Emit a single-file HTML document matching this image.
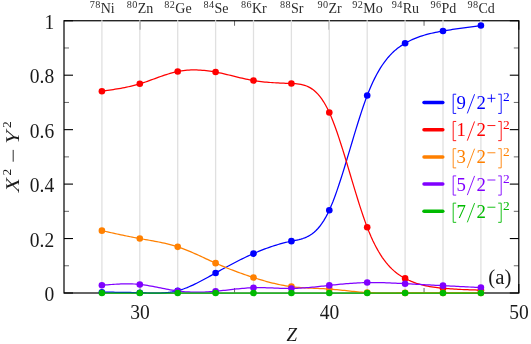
<!DOCTYPE html>
<html><head><meta charset="utf-8"><title>chart</title>
<style>html,body{margin:0;padding:0;background:#fff;}svg{display:block;will-change:transform;}text{font-family:"Liberation Serif",serif;}</style>
</head><body>
<svg width="531" height="344" viewBox="0 0 531 344">
<rect width="531" height="344" fill="#ffffff"/>
<g stroke="#000000" stroke-width="1.2" fill="none">
<rect x="64.0" y="20.75" width="454.80" height="272.25"/>
</g>
<g stroke="#000000" stroke-width="1.1" fill="none"><line x1="64.0" y1="293.00" x2="73.0" y2="293.00"/><line x1="518.8" y1="293.00" x2="509.79999999999995" y2="293.00"/><line x1="64.0" y1="238.55" x2="73.0" y2="238.55"/><line x1="518.8" y1="238.55" x2="509.79999999999995" y2="238.55"/><line x1="64.0" y1="184.10" x2="73.0" y2="184.10"/><line x1="518.8" y1="184.10" x2="509.79999999999995" y2="184.10"/><line x1="64.0" y1="129.65" x2="73.0" y2="129.65"/><line x1="518.8" y1="129.65" x2="509.79999999999995" y2="129.65"/><line x1="64.0" y1="75.20" x2="73.0" y2="75.20"/><line x1="518.8" y1="75.20" x2="509.79999999999995" y2="75.20"/><line x1="64.0" y1="20.75" x2="73.0" y2="20.75"/><line x1="518.8" y1="20.75" x2="509.79999999999995" y2="20.75"/><line x1="139.80" y1="293.0" x2="139.80" y2="284.0"/><line x1="139.80" y1="20.75" x2="139.80" y2="29.75"/><line x1="329.30" y1="293.0" x2="329.30" y2="284.0"/><line x1="329.30" y1="20.75" x2="329.30" y2="29.75"/><line x1="518.80" y1="293.0" x2="518.80" y2="284.0"/><line x1="518.80" y1="20.75" x2="518.80" y2="29.75"/></g>
<g stroke="#000000" stroke-width="0.6" fill="none"><line x1="64.0" y1="265.77" x2="69.0" y2="265.77"/><line x1="518.8" y1="265.77" x2="513.8" y2="265.77"/><line x1="64.0" y1="211.32" x2="69.0" y2="211.32"/><line x1="518.8" y1="211.32" x2="513.8" y2="211.32"/><line x1="64.0" y1="156.88" x2="69.0" y2="156.88"/><line x1="518.8" y1="156.88" x2="513.8" y2="156.88"/><line x1="64.0" y1="102.43" x2="69.0" y2="102.43"/><line x1="518.8" y1="102.43" x2="513.8" y2="102.43"/><line x1="64.0" y1="47.97" x2="69.0" y2="47.97"/><line x1="518.8" y1="47.97" x2="513.8" y2="47.97"/><line x1="234.55" y1="293.0" x2="234.55" y2="288.0"/><line x1="234.55" y1="20.75" x2="234.55" y2="25.75"/><line x1="424.05" y1="293.0" x2="424.05" y2="288.0"/><line x1="424.05" y1="20.75" x2="424.05" y2="25.75"/></g>
<g stroke="#e0e0e0" stroke-width="1.3">
<line x1="101.90" y1="20.15" x2="101.90" y2="293.6"/>
<line x1="139.80" y1="20.15" x2="139.80" y2="293.6"/>
<line x1="177.70" y1="20.15" x2="177.70" y2="293.6"/>
<line x1="215.60" y1="20.15" x2="215.60" y2="293.6"/>
<line x1="253.50" y1="20.15" x2="253.50" y2="293.6"/>
<line x1="291.40" y1="20.15" x2="291.40" y2="293.6"/>
<line x1="329.30" y1="20.15" x2="329.30" y2="293.6"/>
<line x1="367.20" y1="20.15" x2="367.20" y2="293.6"/>
<line x1="405.10" y1="20.15" x2="405.10" y2="293.6"/>
<line x1="443.00" y1="20.15" x2="443.00" y2="293.6"/>
<line x1="480.90" y1="20.15" x2="480.90" y2="293.6"/>
</g>
<line x1="101.90" y1="293.0" x2="480.90" y2="293.0" stroke="#ffffff" stroke-opacity="0.4" stroke-width="2"/>
<polyline points="101.90,292.18 103.80,292.19 105.69,292.20 107.59,292.21 109.48,292.22 111.38,292.23 113.27,292.24 115.16,292.26 117.06,292.27 118.95,292.29 120.85,292.31 122.75,292.34 124.64,292.36 126.53,292.39 128.43,292.43 130.32,292.47 132.22,292.51 134.11,292.56 136.01,292.61 137.90,292.66 139.80,292.73 141.70,292.80 143.59,292.87 145.49,292.94 147.38,293.00 149.27,293.06 151.17,293.10 153.06,293.14 154.96,293.15 156.85,293.14 158.75,293.11 160.65,293.05 162.54,292.96 164.44,292.84 166.33,292.67 168.22,292.47 170.12,292.22 172.01,291.92 173.91,291.57 175.80,291.17 177.70,290.71 179.60,290.18 181.49,289.60 183.38,288.97 185.28,288.28 187.18,287.55 189.07,286.77 190.97,285.94 192.86,285.08 194.75,284.19 196.65,283.26 198.55,282.30 200.44,281.32 202.33,280.32 204.23,279.30 206.12,278.26 208.02,277.21 209.92,276.16 211.81,275.09 213.70,274.03 215.60,272.97 217.50,271.91 219.39,270.85 221.28,269.80 223.18,268.76 225.07,267.73 226.97,266.70 228.87,265.69 230.76,264.68 232.65,263.68 234.55,262.70 236.45,261.72 238.34,260.76 240.23,259.81 242.13,258.87 244.02,257.95 245.92,257.05 247.82,256.16 249.71,255.28 251.60,254.42 253.50,253.59 255.40,252.77 257.29,251.96 259.18,251.18 261.08,250.42 262.98,249.68 264.87,248.95 266.76,248.25 268.66,247.57 270.55,246.91 272.45,246.27 274.35,245.66 276.24,245.06 278.13,244.49 280.03,243.95 281.92,243.42 283.82,242.92 285.72,242.45 287.61,241.99 289.50,241.57 291.40,241.17 293.29,240.79 295.19,240.41 297.08,240.02 298.98,239.59 300.88,239.10 302.77,238.53 304.67,237.86 306.56,237.06 308.45,236.12 310.35,235.02 312.25,233.73 314.14,232.23 316.03,230.50 317.93,228.52 319.82,226.27 321.72,223.72 323.62,220.86 325.51,217.67 327.40,214.12 329.30,210.19 331.19,205.87 333.09,201.19 334.98,196.18 336.88,190.87 338.77,185.32 340.67,179.54 342.56,173.57 344.46,167.46 346.35,161.24 348.25,154.94 350.14,148.59 352.04,142.24 353.93,135.93 355.83,129.67 357.72,123.52 359.62,117.51 361.52,111.67 363.41,106.04 365.30,100.65 367.20,95.55 369.09,90.75 370.99,86.26 372.88,82.06 374.78,78.14 376.67,74.48 378.57,71.08 380.47,67.92 382.36,64.99 384.25,62.28 386.15,59.78 388.05,57.47 389.94,55.33 391.83,53.37 393.73,51.56 395.62,49.89 397.52,48.36 399.42,46.94 401.31,45.63 403.20,44.41 405.10,43.28 406.99,42.21 408.89,41.21 410.78,40.28 412.68,39.40 414.57,38.58 416.47,37.81 418.37,37.10 420.26,36.43 422.16,35.81 424.05,35.23 425.94,34.68 427.84,34.17 429.73,33.70 431.63,33.25 433.52,32.83 435.42,32.44 437.31,32.06 439.21,31.70 441.11,31.36 443.00,31.02 444.89,30.70 446.79,30.38 448.68,30.07 450.58,29.77 452.47,29.47 454.37,29.18 456.27,28.89 458.16,28.61 460.06,28.34 461.95,28.06 463.84,27.80 465.74,27.53 467.63,27.27 469.53,27.02 471.42,26.76 473.32,26.51 475.21,26.26 477.11,26.01 479.01,25.76 480.90,25.51" fill="none" stroke="#0000ff" stroke-width="1.25" stroke-linejoin="round" stroke-linecap="round"/>
<g fill="#0000ff">
<circle cx="101.90" cy="292.18" r="3.3"/>
<circle cx="139.80" cy="292.73" r="3.3"/>
<circle cx="177.70" cy="290.71" r="3.3"/>
<circle cx="215.60" cy="272.97" r="3.3"/>
<circle cx="253.50" cy="253.59" r="3.3"/>
<circle cx="291.40" cy="241.17" r="3.3"/>
<circle cx="329.30" cy="210.19" r="3.3"/>
<circle cx="367.20" cy="95.55" r="3.3"/>
<circle cx="405.10" cy="43.28" r="3.3"/>
<circle cx="443.00" cy="31.02" r="3.3"/>
<circle cx="480.90" cy="25.51" r="3.3"/>
</g>
<polyline points="101.90,91.18 103.80,90.91 105.69,90.65 107.59,90.38 109.48,90.10 111.38,89.82 113.27,89.53 115.16,89.23 117.06,88.92 118.95,88.60 120.85,88.27 122.75,87.92 124.64,87.55 126.53,87.16 128.43,86.76 130.32,86.33 132.22,85.88 134.11,85.40 136.01,84.90 137.90,84.37 139.80,83.81 141.70,83.22 143.59,82.61 145.49,81.97 147.38,81.31 149.27,80.64 151.17,79.95 153.06,79.26 154.96,78.57 156.85,77.88 158.75,77.20 160.65,76.52 162.54,75.86 164.44,75.21 166.33,74.59 168.22,73.99 170.12,73.42 172.01,72.89 173.91,72.39 175.80,71.94 177.70,71.53 179.60,71.17 181.49,70.86 183.38,70.59 185.28,70.37 187.18,70.20 189.07,70.07 190.97,69.98 192.86,69.93 194.75,69.92 196.65,69.95 198.55,70.02 200.44,70.12 202.33,70.26 204.23,70.43 206.12,70.63 208.02,70.86 209.92,71.13 211.81,71.42 213.70,71.73 215.60,72.07 217.50,72.44 219.39,72.83 221.28,73.23 223.18,73.66 225.07,74.09 226.97,74.54 228.87,74.99 230.76,75.46 232.65,75.92 234.55,76.39 236.45,76.85 238.34,77.31 240.23,77.77 242.13,78.21 244.02,78.64 245.92,79.06 247.82,79.46 249.71,79.84 251.60,80.20 253.50,80.54 255.40,80.84 257.29,81.12 259.18,81.38 261.08,81.61 262.98,81.83 264.87,82.02 266.76,82.20 268.66,82.35 270.55,82.50 272.45,82.63 274.35,82.75 276.24,82.85 278.13,82.95 280.03,83.05 281.92,83.13 283.82,83.22 285.72,83.30 287.61,83.38 289.50,83.46 291.40,83.54 293.29,83.63 295.19,83.74 297.08,83.90 298.98,84.12 300.88,84.42 302.77,84.83 304.67,85.36 306.56,86.03 308.45,86.86 310.35,87.88 312.25,89.10 314.14,90.54 316.03,92.23 317.93,94.17 319.82,96.40 321.72,98.93 323.62,101.79 325.51,104.98 327.40,108.53 329.30,112.47 331.19,116.80 333.09,121.49 334.98,126.51 336.88,131.83 338.77,137.40 340.67,143.19 342.56,149.17 344.46,155.30 346.35,161.53 348.25,167.85 350.14,174.20 352.04,180.56 353.93,186.89 355.83,193.15 357.72,199.30 359.62,205.32 361.52,211.15 363.41,216.78 365.30,222.15 367.20,227.25 369.09,232.03 370.99,236.50 372.88,240.67 374.78,244.56 376.67,248.18 378.57,251.54 380.47,254.66 382.36,257.54 384.25,260.20 386.15,262.65 388.05,264.91 389.94,266.98 391.83,268.88 393.73,270.62 395.62,272.22 397.52,273.68 399.42,275.01 401.31,276.24 403.20,277.38 405.10,278.42 406.99,279.40 408.89,280.30 410.78,281.14 412.68,281.92 414.57,282.64 416.47,283.30 418.37,283.90 420.26,284.46 422.16,284.97 424.05,285.43 425.94,285.85 427.84,286.23 429.73,286.58 431.63,286.89 433.52,287.17 435.42,287.43 437.31,287.66 439.21,287.88 441.11,288.07 443.00,288.25 444.89,288.42 446.79,288.57 448.68,288.72 450.58,288.86 452.47,288.98 454.37,289.10 456.27,289.21 458.16,289.31 460.06,289.41 461.95,289.50 463.84,289.58 465.74,289.66 467.63,289.73 469.53,289.80 471.42,289.87 473.32,289.93 475.21,289.99 477.11,290.05 479.01,290.10 480.90,290.16" fill="none" stroke="#ff0000" stroke-width="1.25" stroke-linejoin="round" stroke-linecap="round"/>
<g fill="#ff0000">
<circle cx="101.90" cy="91.18" r="3.3"/>
<circle cx="139.80" cy="83.81" r="3.3"/>
<circle cx="177.70" cy="71.53" r="3.3"/>
<circle cx="215.60" cy="72.07" r="3.3"/>
<circle cx="253.50" cy="80.54" r="3.3"/>
<circle cx="291.40" cy="83.54" r="3.3"/>
<circle cx="329.30" cy="112.47" r="3.3"/>
<circle cx="367.20" cy="227.25" r="3.3"/>
<circle cx="405.10" cy="278.42" r="3.3"/>
<circle cx="443.00" cy="288.25" r="3.3"/>
<circle cx="480.90" cy="290.16" r="3.3"/>
</g>
<polyline points="101.90,230.66 103.80,231.08 105.69,231.50 107.59,231.92 109.48,232.34 111.38,232.75 113.27,233.17 115.16,233.58 117.06,233.99 118.95,234.40 120.85,234.80 122.75,235.20 124.64,235.60 126.53,235.99 128.43,236.38 130.32,236.76 132.22,237.13 134.11,237.50 136.01,237.87 137.90,238.22 139.80,238.57 141.70,238.92 143.59,239.25 145.49,239.59 147.38,239.92 149.27,240.25 151.17,240.59 153.06,240.93 154.96,241.28 156.85,241.64 158.75,242.01 160.65,242.40 162.54,242.80 164.44,243.22 166.33,243.66 168.22,244.12 170.12,244.61 172.01,245.12 173.91,245.66 175.80,246.24 177.70,246.84 179.60,247.49 181.49,248.16 183.38,248.86 185.28,249.60 187.18,250.35 189.07,251.14 190.97,251.94 192.86,252.76 194.75,253.59 196.65,254.44 198.55,255.30 200.44,256.17 202.33,257.05 204.23,257.93 206.12,258.81 208.02,259.69 209.92,260.56 211.81,261.43 213.70,262.29 215.60,263.14 217.50,263.98 219.39,264.80 221.28,265.61 223.18,266.41 225.07,267.19 226.97,267.96 228.87,268.72 230.76,269.47 232.65,270.20 234.55,270.93 236.45,271.64 238.34,272.34 240.23,273.03 242.13,273.71 244.02,274.37 245.92,275.03 247.82,275.68 249.71,276.31 251.60,276.94 253.50,277.55 255.40,278.16 257.29,278.75 259.18,279.33 261.08,279.90 262.98,280.46 264.87,281.00 266.76,281.53 268.66,282.04 270.55,282.54 272.45,283.02 274.35,283.48 276.24,283.92 278.13,284.34 280.03,284.74 281.92,285.12 283.82,285.48 285.72,285.81 287.61,286.12 289.50,286.41 291.40,286.67 293.29,286.90 295.19,287.11 297.08,287.30 298.98,287.46 300.88,287.61 302.77,287.74 304.67,287.86 306.56,287.97 308.45,288.06 310.35,288.15 312.25,288.23 314.14,288.31 316.03,288.39 317.93,288.47 319.82,288.55 321.72,288.64 323.62,288.73 325.51,288.83 327.40,288.94 329.30,289.07 331.19,289.21 333.09,289.36 334.98,289.53 336.88,289.70 338.77,289.89 340.67,290.08 342.56,290.28 344.46,290.48 346.35,290.68 348.25,290.89 350.14,291.09 352.04,291.29 353.93,291.49 355.83,291.68 357.72,291.86 359.62,292.04 361.52,292.20 363.41,292.36 365.30,292.49 367.20,292.62 369.09,292.72 370.99,292.82 372.88,292.89 374.78,292.95 376.67,293.00 378.57,293.04 380.47,293.07 382.36,293.08 384.25,293.09 386.15,293.09 388.05,293.09 389.94,293.07 391.83,293.06 393.73,293.04 395.62,293.01 397.52,292.99 399.42,292.96 401.31,292.94 403.20,292.91 405.10,292.89 406.99,292.87 408.89,292.86 410.78,292.84 412.68,292.84 414.57,292.83 416.47,292.82 418.37,292.82 420.26,292.82 422.16,292.82 424.05,292.83 425.94,292.83 427.84,292.84 429.73,292.84 431.63,292.85 433.52,292.86 435.42,292.86 437.31,292.87 439.21,292.88 441.11,292.88 443.00,292.89 444.89,292.90 446.79,292.90 448.68,292.90 450.58,292.91 452.47,292.91 454.37,292.91 456.27,292.91 458.16,292.91 460.06,292.91 461.95,292.91 463.84,292.91 465.74,292.91 467.63,292.91 469.53,292.91 471.42,292.90 473.32,292.90 475.21,292.90 477.11,292.90 479.01,292.89 480.90,292.89" fill="none" stroke="#ff8000" stroke-width="1.25" stroke-linejoin="round" stroke-linecap="round"/>
<g fill="#ff8000">
<circle cx="101.90" cy="230.66" r="3.3"/>
<circle cx="139.80" cy="238.57" r="3.3"/>
<circle cx="177.70" cy="246.84" r="3.3"/>
<circle cx="215.60" cy="263.14" r="3.3"/>
<circle cx="253.50" cy="277.55" r="3.3"/>
<circle cx="291.40" cy="286.67" r="3.3"/>
<circle cx="329.30" cy="289.07" r="3.3"/>
<circle cx="367.20" cy="292.62" r="3.3"/>
<circle cx="405.10" cy="292.89" r="3.3"/>
<circle cx="443.00" cy="292.89" r="3.3"/>
<circle cx="480.90" cy="292.89" r="3.3"/>
</g>
<polyline points="101.90,285.25 103.80,285.09 105.69,284.94 107.59,284.78 109.48,284.64 111.38,284.50 113.27,284.37 115.16,284.25 117.06,284.14 118.95,284.04 120.85,283.97 122.75,283.91 124.64,283.86 126.53,283.84 128.43,283.84 130.32,283.87 132.22,283.92 134.11,284.00 136.01,284.11 137.90,284.25 139.80,284.43 141.70,284.64 143.59,284.88 145.49,285.15 147.38,285.44 149.27,285.76 151.17,286.09 153.06,286.44 154.96,286.80 156.85,287.18 158.75,287.56 160.65,287.94 162.54,288.32 164.44,288.70 166.33,289.07 168.22,289.43 170.12,289.78 172.01,290.11 173.91,290.42 175.80,290.72 177.70,290.98 179.60,291.22 181.49,291.42 183.38,291.61 185.28,291.76 187.18,291.89 189.07,291.99 190.97,292.07 192.86,292.13 194.75,292.16 196.65,292.17 198.55,292.16 200.44,292.13 202.33,292.08 204.23,292.01 206.12,291.93 208.02,291.82 209.92,291.70 211.81,291.57 213.70,291.42 215.60,291.25 217.50,291.08 219.39,290.89 221.28,290.69 223.18,290.48 225.07,290.27 226.97,290.06 228.87,289.84 230.76,289.62 232.65,289.41 234.55,289.19 236.45,288.99 238.34,288.79 240.23,288.60 242.13,288.42 244.02,288.26 245.92,288.11 247.82,287.98 249.71,287.87 251.60,287.77 253.50,287.70 255.40,287.66 257.29,287.64 259.18,287.63 261.08,287.65 262.98,287.68 264.87,287.72 266.76,287.78 268.66,287.84 270.55,287.91 272.45,287.98 274.35,288.06 276.24,288.13 278.13,288.21 280.03,288.27 281.92,288.33 283.82,288.38 285.72,288.42 287.61,288.44 289.50,288.45 291.40,288.44 293.29,288.41 295.19,288.36 297.08,288.29 298.98,288.20 300.88,288.10 302.77,287.98 304.67,287.84 306.56,287.70 308.45,287.54 310.35,287.37 312.25,287.20 314.14,287.01 316.03,286.82 317.93,286.62 319.82,286.42 321.72,286.21 323.62,286.01 325.51,285.80 327.40,285.59 329.30,285.38 331.19,285.18 333.09,284.98 334.98,284.78 336.88,284.59 338.77,284.40 340.67,284.22 342.56,284.04 344.46,283.87 346.35,283.71 348.25,283.56 350.14,283.41 352.04,283.28 353.93,283.15 355.83,283.03 357.72,282.92 359.62,282.83 361.52,282.75 363.41,282.68 365.30,282.62 367.20,282.57 369.09,282.54 370.99,282.53 372.88,282.52 374.78,282.53 376.67,282.55 378.57,282.58 380.47,282.62 382.36,282.67 384.25,282.72 386.15,282.79 388.05,282.86 389.94,282.94 391.83,283.02 393.73,283.11 395.62,283.20 397.52,283.29 399.42,283.39 401.31,283.49 403.20,283.59 405.10,283.69 406.99,283.79 408.89,283.89 410.78,283.99 412.68,284.09 414.57,284.19 416.47,284.29 418.37,284.39 420.26,284.49 422.16,284.59 424.05,284.69 425.94,284.78 427.84,284.88 429.73,284.98 431.63,285.08 433.52,285.17 435.42,285.27 437.31,285.37 439.21,285.46 441.11,285.56 443.00,285.66 444.89,285.75 446.79,285.85 448.68,285.95 450.58,286.04 452.47,286.14 454.37,286.23 456.27,286.33 458.16,286.42 460.06,286.52 461.95,286.62 463.84,286.71 465.74,286.81 467.63,286.90 469.53,287.00 471.42,287.09 473.32,287.19 475.21,287.28 477.11,287.38 479.01,287.47 480.90,287.57" fill="none" stroke="#8000ff" stroke-width="1.25" stroke-linejoin="round" stroke-linecap="round"/>
<g fill="#8000ff">
<circle cx="101.90" cy="285.25" r="3.3"/>
<circle cx="139.80" cy="284.43" r="3.3"/>
<circle cx="177.70" cy="290.98" r="3.3"/>
<circle cx="215.60" cy="291.25" r="3.3"/>
<circle cx="253.50" cy="287.70" r="3.3"/>
<circle cx="291.40" cy="288.44" r="3.3"/>
<circle cx="329.30" cy="285.38" r="3.3"/>
<circle cx="367.20" cy="282.57" r="3.3"/>
<circle cx="405.10" cy="283.69" r="3.3"/>
<circle cx="443.00" cy="285.66" r="3.3"/>
<circle cx="480.90" cy="287.57" r="3.3"/>
</g>
<polyline points="101.90,293.00 103.80,293.00 105.69,293.00 107.59,293.00 109.48,293.00 111.38,293.00 113.27,293.00 115.16,293.00 117.06,293.00 118.95,293.00 120.85,293.00 122.75,293.00 124.64,293.00 126.53,293.00 128.43,293.00 130.32,293.00 132.22,293.00 134.11,293.00 136.01,293.00 137.90,293.00 139.80,293.00 141.70,293.00 143.59,293.00 145.49,293.00 147.38,293.00 149.27,293.00 151.17,293.00 153.06,293.00 154.96,293.00 156.85,293.00 158.75,293.00 160.65,293.00 162.54,293.00 164.44,293.00 166.33,293.00 168.22,293.00 170.12,293.00 172.01,293.00 173.91,293.00 175.80,293.00 177.70,293.00 179.60,293.00 181.49,293.00 183.38,293.00 185.28,293.00 187.18,293.00 189.07,293.00 190.97,293.00 192.86,293.00 194.75,293.00 196.65,293.00 198.55,293.00 200.44,293.00 202.33,293.00 204.23,293.00 206.12,293.00 208.02,293.00 209.92,293.00 211.81,293.00 213.70,293.00 215.60,293.00 217.50,293.00 219.39,293.00 221.28,293.00 223.18,293.00 225.07,293.00 226.97,293.00 228.87,293.00 230.76,293.00 232.65,293.00 234.55,293.00 236.45,293.00 238.34,293.00 240.23,293.00 242.13,293.00 244.02,293.00 245.92,293.00 247.82,293.00 249.71,293.00 251.60,293.00 253.50,293.00 255.40,293.00 257.29,293.00 259.18,293.00 261.08,293.00 262.98,293.00 264.87,293.00 266.76,293.00 268.66,293.00 270.55,293.00 272.45,293.00 274.35,293.00 276.24,293.00 278.13,293.00 280.03,293.00 281.92,293.00 283.82,293.00 285.72,293.00 287.61,293.00 289.50,293.00 291.40,293.00 293.29,293.00 295.19,293.00 297.08,293.00 298.98,293.00 300.88,293.00 302.77,293.00 304.67,293.00 306.56,293.00 308.45,293.00 310.35,293.00 312.25,293.00 314.14,293.00 316.03,293.00 317.93,293.00 319.82,293.00 321.72,293.00 323.62,293.00 325.51,293.00 327.40,293.00 329.30,293.00 331.19,293.00 333.09,293.00 334.98,293.00 336.88,293.00 338.77,293.00 340.67,293.00 342.56,293.00 344.46,293.00 346.35,293.00 348.25,293.00 350.14,293.00 352.04,293.00 353.93,293.00 355.83,293.00 357.72,293.00 359.62,293.00 361.52,293.00 363.41,293.00 365.30,293.00 367.20,293.00 369.09,293.00 370.99,293.00 372.88,293.00 374.78,293.00 376.67,293.00 378.57,293.00 380.47,293.00 382.36,293.00 384.25,293.00 386.15,293.00 388.05,293.00 389.94,293.00 391.83,293.00 393.73,293.00 395.62,293.00 397.52,293.00 399.42,293.00 401.31,293.00 403.20,293.00 405.10,293.00 406.99,293.00 408.89,293.00 410.78,293.00 412.68,293.00 414.57,293.00 416.47,293.00 418.37,293.00 420.26,293.00 422.16,293.00 424.05,293.00 425.94,293.00 427.84,293.00 429.73,293.00 431.63,293.00 433.52,293.00 435.42,293.00 437.31,293.00 439.21,293.00 441.11,293.00 443.00,293.00 444.89,293.00 446.79,293.00 448.68,293.00 450.58,293.00 452.47,293.00 454.37,293.00 456.27,293.00 458.16,293.00 460.06,293.00 461.95,293.00 463.84,293.00 465.74,293.00 467.63,293.00 469.53,293.00 471.42,293.00 473.32,293.00 475.21,293.00 477.11,293.00 479.01,293.00 480.90,293.00" fill="none" stroke="#00ba00" stroke-width="1.25" stroke-linejoin="round" stroke-linecap="round"/>
<g fill="#00ba00">
<circle cx="101.90" cy="293.00" r="3.3"/>
<circle cx="139.80" cy="293.00" r="3.3"/>
<circle cx="177.70" cy="293.00" r="3.3"/>
<circle cx="215.60" cy="293.00" r="3.3"/>
<circle cx="253.50" cy="293.00" r="3.3"/>
<circle cx="291.40" cy="293.00" r="3.3"/>
<circle cx="329.30" cy="293.00" r="3.3"/>
<circle cx="367.20" cy="293.00" r="3.3"/>
<circle cx="405.10" cy="293.00" r="3.3"/>
<circle cx="443.00" cy="293.00" r="3.3"/>
<circle cx="480.90" cy="293.00" r="3.3"/>
</g>
<g font-family="Liberation Serif, serif" fill="#1a1a1a">
<text transform="translate(54.2,301.00) scale(1,1.07)" font-size="19.5" text-anchor="end">0</text>
<text transform="translate(54.2,246.55) scale(1,1.07)" font-size="19.5" text-anchor="end">0.2</text>
<text transform="translate(54.2,192.10) scale(1,1.07)" font-size="19.5" text-anchor="end">0.4</text>
<text transform="translate(54.2,137.65) scale(1,1.07)" font-size="19.5" text-anchor="end">0.6</text>
<text transform="translate(54.2,83.20) scale(1,1.07)" font-size="19.5" text-anchor="end">0.8</text>
<text transform="translate(54.2,28.75) scale(1,1.07)" font-size="19.5" text-anchor="end">1</text>
<text transform="translate(140.10,318.9) scale(1,1.07)" font-size="19.5" text-anchor="middle">30</text>
<text transform="translate(329.60,318.9) scale(1,1.07)" font-size="19.5" text-anchor="middle">40</text>
<text transform="translate(519.10,318.9) scale(1,1.07)" font-size="19.5" text-anchor="middle">50</text>
<text x="291.7" y="341" font-size="19" font-style="italic" text-anchor="middle">Z</text>
<g transform="translate(19.2,193.2) rotate(-90)">
<text x="0" y="0" transform="skewX(-14)" font-size="19.5" textLength="14" lengthAdjust="spacingAndGlyphs">X</text>
<text x="17.6" y="-8" font-size="13.5">2</text>
<line x1="31.5" y1="-6" x2="43.3" y2="-6" stroke="#1a1a1a" stroke-width="0.9"/>
<text x="47.5" y="0" transform="skewX(-14)" font-size="19.5" textLength="14.5" lengthAdjust="spacingAndGlyphs">Y</text>
<text x="65.2" y="-8" font-size="13.5">2</text>
</g>
<text x="102.20" y="12.6" font-size="14" fill="#2c2c2c" text-anchor="middle"><tspan font-size="10.2" dy="-5" letter-spacing="0.4">78</tspan><tspan dy="5">Ni</tspan></text>
<text x="140.10" y="12.6" font-size="14" fill="#2c2c2c" text-anchor="middle"><tspan font-size="10.2" dy="-5" letter-spacing="0.4">80</tspan><tspan dy="5">Zn</tspan></text>
<text x="178.00" y="12.6" font-size="14" fill="#2c2c2c" text-anchor="middle"><tspan font-size="10.2" dy="-5" letter-spacing="0.4">82</tspan><tspan dy="5">Ge</tspan></text>
<text x="215.90" y="12.6" font-size="14" fill="#2c2c2c" text-anchor="middle"><tspan font-size="10.2" dy="-5" letter-spacing="0.4">84</tspan><tspan dy="5">Se</tspan></text>
<text x="253.80" y="12.6" font-size="14" fill="#2c2c2c" text-anchor="middle"><tspan font-size="10.2" dy="-5" letter-spacing="0.4">86</tspan><tspan dy="5">Kr</tspan></text>
<text x="291.70" y="12.6" font-size="14" fill="#2c2c2c" text-anchor="middle"><tspan font-size="10.2" dy="-5" letter-spacing="0.4">88</tspan><tspan dy="5">Sr</tspan></text>
<text x="329.60" y="12.6" font-size="14" fill="#2c2c2c" text-anchor="middle"><tspan font-size="10.2" dy="-5" letter-spacing="0.4">90</tspan><tspan dy="5">Zr</tspan></text>
<text x="367.50" y="12.6" font-size="14" fill="#2c2c2c" text-anchor="middle"><tspan font-size="10.2" dy="-5" letter-spacing="0.4">92</tspan><tspan dy="5">Mo</tspan></text>
<text x="405.40" y="12.6" font-size="14" fill="#2c2c2c" text-anchor="middle"><tspan font-size="10.2" dy="-5" letter-spacing="0.4">94</tspan><tspan dy="5">Ru</tspan></text>
<text x="443.30" y="12.6" font-size="14" fill="#2c2c2c" text-anchor="middle"><tspan font-size="10.2" dy="-5" letter-spacing="0.4">96</tspan><tspan dy="5">Pd</tspan></text>
<text x="481.20" y="12.6" font-size="14" fill="#2c2c2c" text-anchor="middle"><tspan font-size="10.2" dy="-5" letter-spacing="0.4">98</tspan><tspan dy="5">Cd</tspan></text>
<text x="499.8" y="284" font-size="20.8" text-anchor="middle">(a)</text>
</g>
<line x1="424" y1="102.43" x2="442.8" y2="102.43" stroke="#0000ff" stroke-width="3.5" stroke-linecap="round"/>
<g fill="#0000ff" stroke="none" font-family="Liberation Serif, serif" font-size="18.8">
<text x="461.3" y="108.83" text-anchor="middle">9</text>
<text x="481.2" y="108.83" text-anchor="middle">2</text>
<text x="502.9" y="101.43" font-size="12.3" textLength="6.7" lengthAdjust="spacingAndGlyphs">2</text>
</g>
<g stroke="#0000ff" stroke-width="0.9" fill="none">
<path d="M456.2,94.23 H453.2 V113.43 H456.2"/>
<path d="M498.2,94.23 H501.2 V113.43 H498.2"/>
<path d="M474.6,94.23 L467.3,113.43"/>
<path d="M487.4,98.33 H495.4"/>
<path d="M491.4,94.33 V102.33"/>
</g>
<line x1="424" y1="129.65" x2="442.8" y2="129.65" stroke="#ff0000" stroke-width="3.5" stroke-linecap="round"/>
<g fill="#ff0000" stroke="none" font-family="Liberation Serif, serif" font-size="18.8">
<text x="461.3" y="136.05" text-anchor="middle">1</text>
<text x="481.2" y="136.05" text-anchor="middle">2</text>
<text x="502.9" y="128.65" font-size="12.3" textLength="6.7" lengthAdjust="spacingAndGlyphs">2</text>
</g>
<g stroke="#ff0000" stroke-width="0.9" fill="none">
<path d="M456.2,121.45 H453.2 V140.65 H456.2"/>
<path d="M498.2,121.45 H501.2 V140.65 H498.2"/>
<path d="M474.6,121.45 L467.3,140.65"/>
<path d="M487.4,125.55 H495.4"/>
</g>
<line x1="424" y1="156.88" x2="442.8" y2="156.88" stroke="#ff8000" stroke-width="3.5" stroke-linecap="round"/>
<g fill="#ff8000" stroke="none" font-family="Liberation Serif, serif" font-size="18.8">
<text x="461.3" y="163.28" text-anchor="middle">3</text>
<text x="481.2" y="163.28" text-anchor="middle">2</text>
<text x="502.9" y="155.88" font-size="12.3" textLength="6.7" lengthAdjust="spacingAndGlyphs">2</text>
</g>
<g stroke="#ff8000" stroke-width="0.9" fill="none">
<path d="M456.2,148.68 H453.2 V167.88 H456.2"/>
<path d="M498.2,148.68 H501.2 V167.88 H498.2"/>
<path d="M474.6,148.68 L467.3,167.88"/>
<path d="M487.4,152.78 H495.4"/>
</g>
<line x1="424" y1="184.10" x2="442.8" y2="184.10" stroke="#8000ff" stroke-width="3.5" stroke-linecap="round"/>
<g fill="#8000ff" stroke="none" font-family="Liberation Serif, serif" font-size="18.8">
<text x="461.3" y="190.50" text-anchor="middle">5</text>
<text x="481.2" y="190.50" text-anchor="middle">2</text>
<text x="502.9" y="183.10" font-size="12.3" textLength="6.7" lengthAdjust="spacingAndGlyphs">2</text>
</g>
<g stroke="#8000ff" stroke-width="0.9" fill="none">
<path d="M456.2,175.90 H453.2 V195.10 H456.2"/>
<path d="M498.2,175.90 H501.2 V195.10 H498.2"/>
<path d="M474.6,175.90 L467.3,195.10"/>
<path d="M487.4,180.00 H495.4"/>
</g>
<line x1="424" y1="211.33" x2="442.8" y2="211.33" stroke="#00ba00" stroke-width="3.5" stroke-linecap="round"/>
<g fill="#00ba00" stroke="none" font-family="Liberation Serif, serif" font-size="18.8">
<text x="461.3" y="217.73" text-anchor="middle">7</text>
<text x="481.2" y="217.73" text-anchor="middle">2</text>
<text x="502.9" y="210.33" font-size="12.3" textLength="6.7" lengthAdjust="spacingAndGlyphs">2</text>
</g>
<g stroke="#00ba00" stroke-width="0.9" fill="none">
<path d="M456.2,203.13 H453.2 V222.33 H456.2"/>
<path d="M498.2,203.13 H501.2 V222.33 H498.2"/>
<path d="M474.6,203.13 L467.3,222.33"/>
<path d="M487.4,207.23 H495.4"/>
</g>
</svg>
</body></html>
